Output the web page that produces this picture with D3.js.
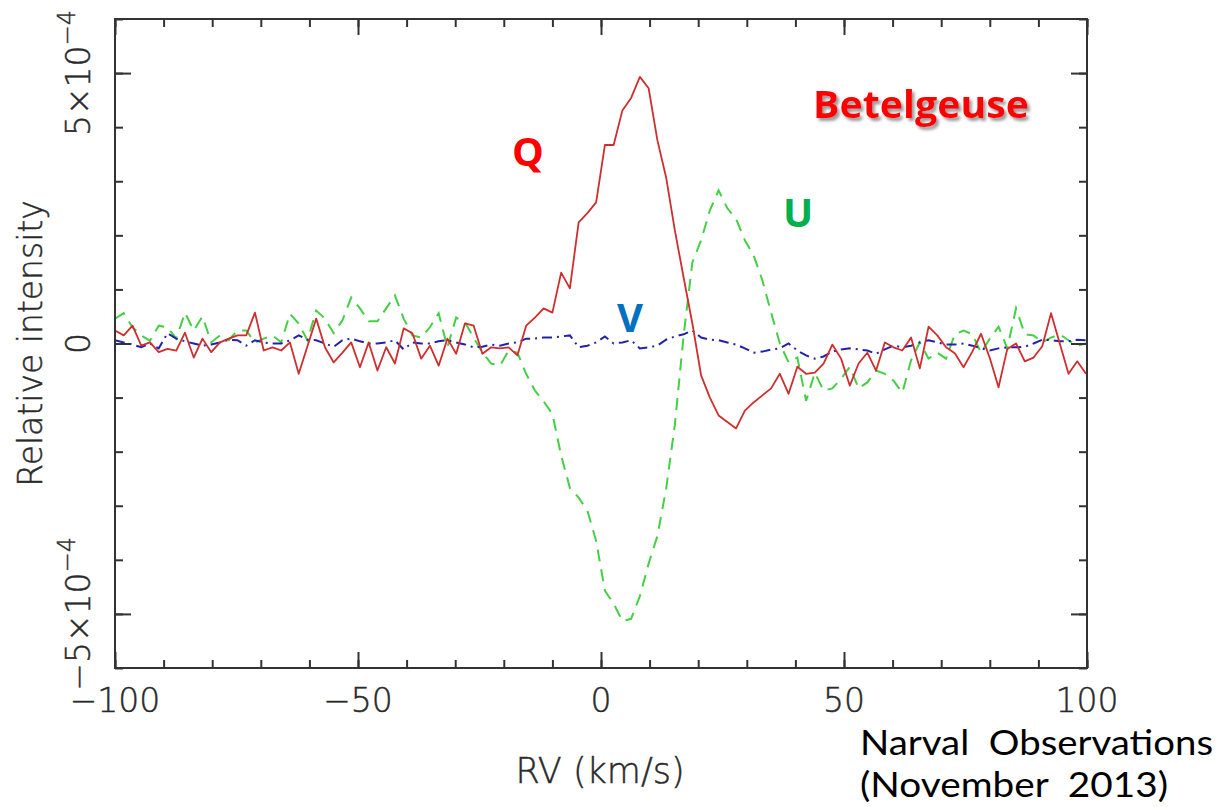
<!DOCTYPE html>
<html>
<head>
<meta charset="utf-8">
<script src="https://cdn.jsdelivr.net/npm/d3@7"></script>
<style>
  html, body { margin: 0; padding: 0; background: #fff; }
  svg { display: block; }
</style>
</head>
<body>
<svg id="chart" width="1220" height="807"></svg>
<script>
// LSD Stokes profiles of Betelgeuse, Narval (November 2013).
// Intensities are stored in units of 1e-4 of the continuum.
const rvStart = -100;
const rvStep = 1.8;

const stokesQ = [
  0.24, 0.15, 0.33, -0.04, 0.02, -0.16, -0.10, -0.13, 0.20, -0.26,
  0.09, -0.16, 0.02, 0.09, 0.15, 0.15, 0.57, -0.13, -0.07, -0.13,
  0.02, -0.56, -0.05, 0.46, -0.07, -0.35, -0.17, 0.02, -0.44, 0.02,
  -0.50, -0.07, -0.37, 0.28, 0.19, -0.28, -0.04, -0.41, 0.09, -0.19,
  0.37, 0.33, -0.19, -0.07, -0.09, -0.07, -0.22, 0.33, 0.48, 0.65,
  0.57, 1.31, 1.02, 2.24, 2.41, 2.61, 3.67, 3.67, 4.31, 4.54,
  4.93, 4.72, 3.76, 3.07, 2.09, 1.22, 0.37, -0.59, -1.00, -1.33,
  -1.45, -1.57, -1.24, -1.09, -0.96, -0.83, -0.56, -0.93, -0.43, -0.56,
  -0.54, -0.37, -0.02, -0.28, -0.78, -0.37, -0.17, -0.50, 0.02, -0.07,
  -0.13, 0.11, -0.46, 0.31, 0.15, -0.07, -0.18, -0.44, -0.15, 0.18,
  -0.27, -0.81, -0.10, 0.00, -0.33, -0.26, -0.05, 0.56, 0.00, -0.56,
  -0.33, -0.56
];

const stokesU = [
  0.46, 0.56, 0.30, 0.15, 0.05, 0.33, 0.30, 0.09, 0.57, 0.24,
  0.50, 0.02, 0.15, 0.06, 0.24, 0.24, 0.02, 0.09, 0.15, 0.02,
  0.55, 0.37, 0.06, 0.61, 0.46, 0.19, 0.43, 0.85, 0.65, 0.41,
  0.41, 0.65, 0.89, 0.46, 0.15, 0.11, 0.30, 0.56, -0.07, 0.48,
  0.39, 0.11, -0.17, -0.37, -0.41, -0.13, -0.17, -0.56, -0.87, -1.07,
  -1.30, -2.07, -2.67, -2.85, -3.09, -3.65, -4.57, -4.81, -5.13, -5.09,
  -4.67, -4.07, -3.56, -2.69, -1.50, 0.15, 1.50, 1.91, 2.46, 2.83,
  2.50, 2.30, 1.91, 1.63, 1.17, 0.57, 0.00, -0.35, -0.26, -1.06,
  -0.54, -0.87, -0.83, -0.65, -0.43, -0.83, -0.72, -0.50, -0.56, -0.69,
  -0.91, -0.31, 0.02, -0.28, -0.17, -0.28, 0.17, 0.24, 0.17, -0.17,
  0.09, 0.31, -0.09, 0.65, 0.17, 0.15, 0.02, 0.11, 0.17, 0.06,
  -0.04, 0.00
];

const stokesV = [
  0.06, 0.02, -0.02, -0.07, 0.00, -0.09, 0.19, 0.09, 0.04, 0.00,
  -0.04, -0.02, 0.02, 0.07, 0.06, -0.04, 0.06, 0.02, 0.00, 0.00,
  0.06, 0.15, 0.07, 0.06, 0.00, -0.06, 0.06, 0.09, 0.04, 0.00,
  0.00, 0.02, 0.06, -0.11, 0.02, 0.00, 0.00, 0.04, 0.06, 0.02,
  -0.02, -0.07, -0.06, -0.02, -0.04, 0.00, 0.02, 0.09, 0.09, 0.11,
  0.11, 0.13, 0.15, -0.07, -0.04, 0.02, 0.13, 0.00, 0.02, 0.06,
  -0.09, -0.07, -0.04, 0.07, 0.13, 0.17, 0.24, 0.11, 0.07, 0.06,
  0.02, -0.02, -0.09, -0.17, -0.15, -0.11, -0.09, 0.00, -0.13, -0.22,
  -0.28, -0.24, -0.15, -0.11, -0.09, -0.11, -0.13, -0.19, -0.11, -0.04,
  -0.07, -0.04, 0.02, 0.06, 0.02, -0.02, -0.02, 0.00, -0.04, -0.09,
  -0.13, -0.09, -0.07, -0.07, -0.06, 0.00, 0.07, 0.06, 0.04, 0.04,
  0.07, 0.06
];

const xMajorTicks = [-100, -50, 0, 50, 100];
const xTickLabels = ["\u2212100", "\u221250", "0", "50", "100"];
const yMajorTicks = [-5, 0, 5];
const yTickLabels = [
  { mant: "\u22125\u00d710", exp: "\u22124" },
  { mant: "0", exp: "" },
  { mant: "5\u00d710", exp: "\u22124" }
];

const rv = d3.range(stokesQ.length).map(i => rvStart + rvStep * i);

const svg = d3.select("#chart");
const plotLeft = 115, plotRight = 1087, plotTop = 19, plotBottom = 668;

const x = d3.scaleLinear().domain([-100, 100]).range([plotLeft, plotRight]);
const y = d3.scaleLinear().domain([-6, 6]).range([plotBottom, plotTop]);

const axisFont = "'DejaVu Sans', sans-serif";
const axisColor = "#333";
const textColor = "#2a2a2a";

// thin axis lettering, slightly thickened with a hairline stroke
function axisText(sel, size) {
  return sel.attr("font-family", axisFont).attr("font-weight", 200)
    .attr("font-size", size).attr("fill", textColor)
    .attr("stroke", textColor).attr("stroke-width", 0.45);
}

// clip the profiles to the frame
const defs = svg.append("defs");
defs.append("clipPath").attr("id", "plotClip")
  .append("rect").attr("x", plotLeft).attr("y", plotTop)
  .attr("width", plotRight - plotLeft).attr("height", plotBottom - plotTop);

const shadow = defs.append("filter").attr("id", "shadow")
  .attr("x", "-10%").attr("y", "-30%").attr("width", "130%").attr("height", "170%");
shadow.append("feDropShadow").attr("dx", 2.5).attr("dy", 3).attr("stdDeviation", 1.6)
  .attr("flood-color", "#777").attr("flood-opacity", 0.75);

// profiles
const line = d3.line().x((d, i) => x(rv[i])).y(d => y(d));
const plot = svg.append("g").attr("clip-path", "url(#plotClip)");

plot.append("path").datum(stokesU)
  .attr("d", line).attr("fill", "none")
  .attr("stroke", "#45cf45").attr("stroke-width", 2)
  .attr("stroke-dasharray", "12,8");

plot.append("path").datum(stokesV)
  .attr("d", line).attr("fill", "none")
  .attr("stroke", "#2222a8").attr("stroke-width", 2)
  .attr("stroke-dasharray", "10,5,2,5");

plot.append("path").datum(stokesQ)
  .attr("d", line).attr("fill", "none")
  .attr("stroke", "#cf2e2e").attr("stroke-width", 1.8)
  .attr("stroke-linejoin", "round");

// axes with inward ticks on all four sides
function styleAxis(g) {
  g.select(".domain").remove();
  g.selectAll(".tick line").attr("stroke", axisColor).attr("stroke-width", 2);
  g.selectAll(".tick text").remove();
}
const xMinor = d3.range(-100, 101, 10);
const yMinor = d3.range(-6, 7, 1);

svg.append("g").attr("transform", `translate(0,${plotBottom})`)
  .call(d3.axisBottom(x).tickValues(xMinor).tickSizeInner(-8).tickSizeOuter(0)).call(styleAxis);
svg.append("g").attr("transform", `translate(0,${plotBottom})`)
  .call(d3.axisBottom(x).tickValues(xMajorTicks).tickSizeInner(-16).tickSizeOuter(0)).call(styleAxis);
svg.append("g").attr("transform", `translate(0,${plotTop})`)
  .call(d3.axisTop(x).tickValues(xMinor).tickSizeInner(-8).tickSizeOuter(0)).call(styleAxis);
svg.append("g").attr("transform", `translate(0,${plotTop})`)
  .call(d3.axisTop(x).tickValues(xMajorTicks).tickSizeInner(-16).tickSizeOuter(0)).call(styleAxis);
svg.append("g").attr("transform", `translate(${plotLeft},0)`)
  .call(d3.axisLeft(y).tickValues(yMinor).tickSizeInner(-8).tickSizeOuter(0)).call(styleAxis);
svg.append("g").attr("transform", `translate(${plotLeft},0)`)
  .call(d3.axisLeft(y).tickValues(yMajorTicks).tickSizeInner(-16).tickSizeOuter(0)).call(styleAxis);
svg.append("g").attr("transform", `translate(${plotRight},0)`)
  .call(d3.axisRight(y).tickValues(yMinor).tickSizeInner(-8).tickSizeOuter(0)).call(styleAxis);
svg.append("g").attr("transform", `translate(${plotRight},0)`)
  .call(d3.axisRight(y).tickValues(yMajorTicks).tickSizeInner(-16).tickSizeOuter(0)).call(styleAxis);

// frame
svg.append("rect").attr("x", plotLeft).attr("y", plotTop)
  .attr("width", plotRight - plotLeft).attr("height", plotBottom - plotTop)
  .attr("fill", "none").attr("stroke", axisColor).attr("stroke-width", 2);

// x tick labels
svg.append("g").selectAll("text").data(xMajorTicks).join("text")
  .attr("x", d => x(d)).attr("y", 712)
  .attr("text-anchor", "middle")
  .call(axisText, 33)
  .text((d, i) => xTickLabels[i]);

// y tick labels, rotated
const yl = svg.append("g").selectAll("text").data(yMajorTicks).join("text")
  .attr("transform", d => `translate(90,${y(d)}) rotate(-90)`)
  .attr("text-anchor", "middle")
  .call(axisText, 33);
yl.append("tspan").text((d, i) => yTickLabels[i].mant);
yl.append("tspan").attr("dy", -15).attr("font-size", 24)
  .text((d, i) => yTickLabels[i].exp);

// axis titles
svg.append("text").attr("x", 600).attr("y", 783)
  .attr("text-anchor", "middle")
  .call(axisText, 35)
  .text("RV (km/s)");

svg.append("text").attr("transform", `translate(42,${(plotTop + plotBottom) / 2}) rotate(-90)`)
  .attr("text-anchor", "middle")
  .call(axisText, 33)
  .text("Relative intensity");

// annotations
const annoFont = "'Open Sans', 'Lato', sans-serif";
svg.append("text").attr("x", 921).attr("y", 118)
  .attr("text-anchor", "middle").attr("font-family", annoFont)
  .attr("font-weight", 700).attr("font-size", 38).attr("fill", "#ff0000")
  .attr("textLength", 216).attr("lengthAdjust", "spacingAndGlyphs")
  .attr("filter", "url(#shadow)")
  .text("Betelgeuse");

const stokesLabels = [
  { name: "Q", x: 528, y: 166, color: "#ff0000" },
  { name: "V", x: 630, y: 332, color: "#0070c0" },
  { name: "U", x: 798, y: 227, color: "#00b050" }
];
svg.append("g").selectAll("text").data(stokesLabels).join("text")
  .attr("x", d => d.x).attr("y", d => d.y)
  .attr("text-anchor", "middle").attr("font-family", annoFont)
  .attr("font-weight", 700).attr("font-size", 40)
  .attr("fill", d => d.color)
  .text(d => d.name);

const noteFont = "'Lato', 'Open Sans', sans-serif";
svg.append("text").attr("x", 860).attr("y", 755)
  .attr("font-family", noteFont).attr("font-size", 35).attr("fill", "#000")
  .attr("textLength", 353).attr("lengthAdjust", "spacingAndGlyphs")
  .attr("xml:space", "preserve")
  .text("Narval  Observations");
svg.append("text").attr("x", 860).attr("y", 797)
  .attr("font-family", noteFont).attr("font-size", 35).attr("fill", "#000")
  .attr("textLength", 308).attr("lengthAdjust", "spacingAndGlyphs")
  .attr("xml:space", "preserve")
  .text("(November  2013)");
</script>
</body>
</html>
